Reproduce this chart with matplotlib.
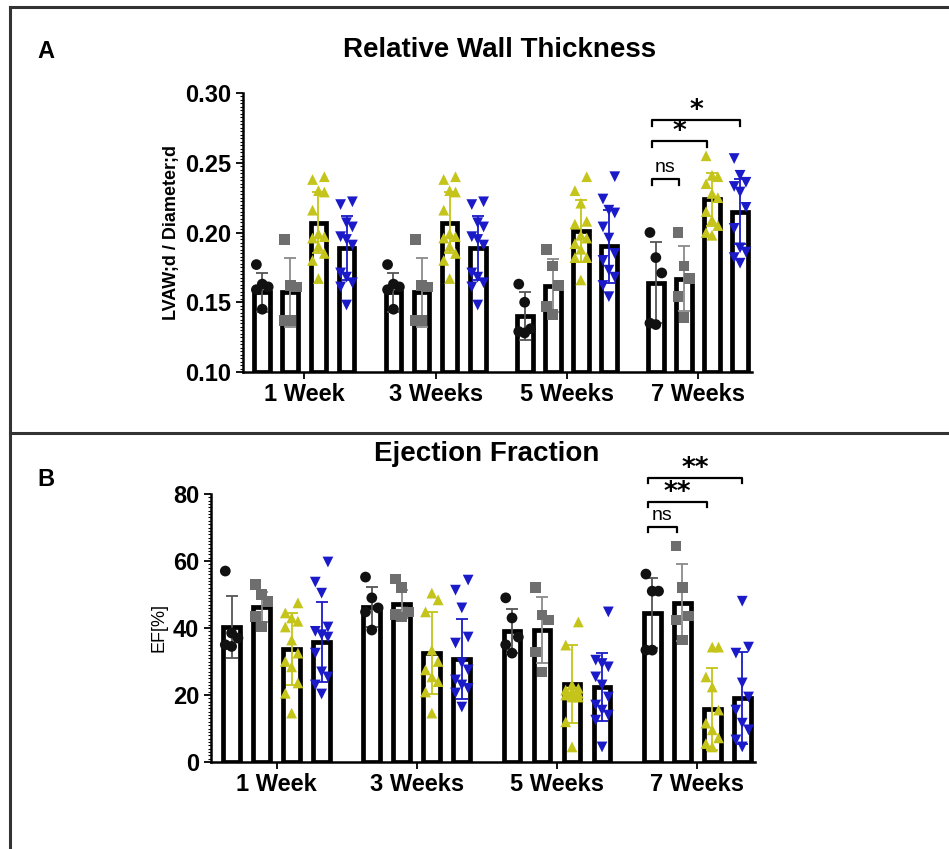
import matplotlib
matplotlib.use("Agg")
import matplotlib.pyplot as plt
import numpy as np
from matplotlib.lines import Line2D
from matplotlib.ticker import MultipleLocator, FormatStrFormatter

plt.rcParams['font.family'] = ['Liberation Sans', 'DejaVu Sans']

weeks = ["1 Week", "3 Weeks", "5 Weeks", "7 Weeks"]
groups = ["black", "gray", "yellow", "blue"]

# Panel A: Relative wall thickness (bar = mean, error = SD)
rwt_mean = [[0.157, 0.157, 0.207, 0.189],
            [0.157, 0.157, 0.207, 0.189],
            [0.140, 0.162, 0.201, 0.190],
            [0.164, 0.167, 0.224, 0.215]]
rwt_sd = [[0.014, 0.025, 0.022, 0.023],
          [0.014, 0.025, 0.022, 0.023],
          [0.017, 0.019, 0.022, 0.026],
          [0.029, 0.023, 0.019, 0.023]]
rwt_points = [
    [[0.177, 0.163, 0.161, 0.159, 0.145],
     [0.195, 0.162, 0.161, 0.137, 0.137],
     [0.240, 0.238, 0.230, 0.229, 0.216, 0.199, 0.197, 0.196, 0.190, 0.185, 0.180, 0.167],
     [0.222, 0.220, 0.207, 0.204, 0.197, 0.195, 0.191, 0.171, 0.168, 0.164, 0.161, 0.148]],
    [[0.177, 0.163, 0.161, 0.159, 0.145],
     [0.195, 0.162, 0.161, 0.137, 0.137],
     [0.240, 0.238, 0.230, 0.229, 0.216, 0.199, 0.197, 0.196, 0.190, 0.185, 0.180, 0.167],
     [0.222, 0.220, 0.207, 0.204, 0.197, 0.195, 0.191, 0.171, 0.168, 0.164, 0.161, 0.148]],
    [[0.163, 0.150, 0.131, 0.129, 0.128],
     [0.188, 0.176, 0.162, 0.147, 0.141],
     [0.240, 0.230, 0.221, 0.208, 0.206, 0.198, 0.196, 0.192, 0.188, 0.182, 0.182, 0.166],
     [0.240, 0.224, 0.216, 0.214, 0.204, 0.196, 0.185, 0.180, 0.173, 0.168, 0.162, 0.154]],
    [[0.200, 0.182, 0.171, 0.135, 0.134],
     [0.200, 0.176, 0.167, 0.154, 0.139],
     [0.255, 0.241, 0.240, 0.235, 0.228, 0.225, 0.215, 0.209, 0.205, 0.200, 0.198],
     [0.253, 0.241, 0.236, 0.233, 0.229, 0.218, 0.203, 0.189, 0.186, 0.182, 0.178]],
]

# Panel B: Ejection fraction
ef_mean = [[40.3, 46.3, 33.7, 35.8],
           [46.3, 47.2, 32.5, 30.7],
           [39.1, 39.4, 23.3, 22.4],
           [44.5, 47.5, 15.8, 19.1]]
ef_sd = [[9.3, 4.4, 10.8, 12.0],
         [5.9, 4.1, 12.3, 12.0],
         [6.6, 9.9, 11.6, 10.1],
         [10.4, 11.5, 12.2, 13.7]]
ef_points = [
    [[57.0, 38.5, 37.0, 35.0, 34.5],
     [53.0, 50.0, 48.0, 43.5, 40.5],
     [47.5, 44.5, 43.0, 42.0, 40.3, 36.4, 32.5, 30.0, 28.4, 23.6, 20.5, 14.6],
     [59.7, 53.7, 50.4, 40.3, 39.0, 38.0, 37.3, 32.5, 26.9, 25.4, 23.0, 20.3]],
    [[55.2, 49.0, 46.0, 44.8, 39.4],
     [54.6, 52.0, 44.8, 44.0, 43.3],
     [50.4, 48.4, 44.8, 33.4, 30.0, 27.5, 25.4, 24.0, 20.9, 14.6],
     [54.3, 51.3, 46.0, 37.3, 35.5, 29.6, 27.5, 24.5, 23.0, 22.0, 20.6, 16.4]],
    [[49.0, 43.0, 37.3, 35.0, 32.5],
     [52.0, 43.9, 42.4, 32.8, 26.9],
     [41.8, 34.9, 23.0, 22.0, 21.5, 21.0, 20.5, 20.0, 19.4, 19.4, 12.0, 4.5],
     [44.8, 30.4, 29.4, 28.4, 25.4, 23.0, 19.4, 17.0, 15.5, 14.0, 12.5, 4.5]],
    [[56.1, 51.0, 51.0, 33.4, 33.4],
     [64.5, 52.2, 43.6, 42.4, 36.4],
     [34.3, 34.3, 25.4, 22.4, 15.5, 11.6, 9.6, 7.2, 5.5, 4.5],
     [48.0, 34.3, 32.5, 23.6, 19.4, 15.5, 11.6, 9.6, 6.6, 4.5]],
]

# significance annotations (7 Weeks): label, from-bar, to-bar, level
sig_a = [("ns", 0, 1, 0.2384), ("*", 0, 2, 0.2656), ("*", 0, 3, 0.2806)]
sig_b = [("ns", 0, 1, 70.1), ("**", 0, 2, 77.6), ("**", 0, 3, 84.8)]

colors = ["#111111", "#6e6e6e", "#c4c41a", "#1a1ac8"]
markers = ["o", "s", "^", "v"]
err_colors = ["#555555", "#8a8a8a", "#c4c41a", "#1a1ac8"]

step = 0.214
bar_w = 0.12

fig = plt.figure(figsize=(9.49, 8.49), dpi=100)

# frame lines
for (x0, y0, x1, y1) in [(10, 7, 949, 7), (10, 7, 10, 849), (10, 433, 949, 433)]:
    fig.add_artist(Line2D([x0 / 949, x1 / 949], [1 - y0 / 849, 1 - y1 / 849],
                          transform=fig.transFigure, color="#333333", lw=2.2))


def draw_panel(ax, means, sds, points, ylim, ydelta, sig, sig_tick, minor, px):
    for gi in range(4):
        for k in range(4):
            x = gi + (k - 1.5) * step
            ax.bar(x, means[gi][k] - ylim[0], bottom=ylim[0], width=bar_w,
                   facecolor="white", edgecolor="black", linewidth=3.4, zorder=2)
            ax.errorbar(x, means[gi][k], yerr=sds[gi][k], color=err_colors[k],
                        capsize=4, capthick=1.3, elinewidth=1.3, zorder=3)
            pts = np.array(points[gi][k])
            order = np.argsort(pts)
            offs = np.zeros(len(pts))
            pattern = [0.0, -1.0, 1.0]
            for r, idx in enumerate(order):
                offs[idx] = pattern[r % 3] * 0.045
            ax.scatter(x + offs, pts, marker=markers[k], s=60, color=colors[k],
                       edgecolors="none", zorder=4)
    ax.set_xlim(-0.468, 3.412)
    ax.set_ylim(*ylim)
    ax.spines["top"].set_visible(False)
    ax.spines["right"].set_visible(False)
    ax.spines["left"].set_linewidth(1.8)
    ax.spines["bottom"].set_linewidth(1.8)
    ax.set_xticks(range(4))
    ax.set_xticklabels(weeks, fontsize=17, fontweight="bold")
    ax.yaxis.set_major_locator(MultipleLocator(ydelta))
    ax.yaxis.set_minor_locator(MultipleLocator(minor))
    ax.tick_params(axis="y", which="major", length=5, width=1.3, labelsize=17)
    ax.tick_params(axis="y", which="minor", length=2.5, width=0.8)
    ax.tick_params(axis="x", which="major", length=5, width=1.3, pad=3)
    for lab, i0, i1, lev in sig:
        x0 = 3 + (i0 - 1.5) * step - 0.03
        x1 = 3 + (i1 - 1.5) * step + (0.0 if i1 == 3 else -0.04)
        ax.plot([x0, x0, x1, x1], [lev - sig_tick, lev, lev, lev - sig_tick],
                color="black", lw=1.6, clip_on=False, zorder=5)
        if lab == "ns":
            ax.text((x0 + x1) / 2, lev + 11.5 * px, lab, ha="center", va="center",
                    fontsize=14)
        else:
            ax.text((x0 + x1) / 2, lev + 9 * px, lab, ha="center", va="center",
                    fontsize=19, fontweight="bold", family=["DejaVu Sans"])


axA = fig.add_axes([243 / 949, 1 - 372 / 849, 509 / 949, 279 / 849])
draw_panel(axA, rwt_mean, rwt_sd, rwt_points, (0.10, 0.30), 0.05, sig_a, 0.004, 0.0025,
           0.2 / 279)
axA.yaxis.set_major_formatter(FormatStrFormatter("%.2f"))
axA.set_ylabel("LVAW;d / Diameter;d", fontsize=13, fontweight="bold", labelpad=4)

axB = fig.add_axes([211 / 949, 1 - 762 / 849, 544 / 949, 268 / 849])
draw_panel(axB, ef_mean, ef_sd, ef_points, (0, 80), 20, sig_b, 1.4, 1, 80 / 268)
axB.set_ylabel("EF[%]", fontsize=13, labelpad=4)

for ax in (axA, axB):
    for lab in ax.get_yticklabels() + ax.get_xticklabels():
        lab.set_fontweight("bold")

fig.text(500 / 949, 1 - 50 / 849, "Relative Wall Thickness", ha="center", va="center",
         fontsize=20, fontweight="bold")
fig.text(46 / 949, 1 - 52 / 849, "A", ha="center", va="center", fontsize=17, fontweight="bold")
fig.text(487 / 949, 1 - 454 / 849, "Ejection Fraction", ha="center", va="center",
         fontsize=20, fontweight="bold")
fig.text(46 / 949, 1 - 480 / 849, "B", ha="center", va="center", fontsize=17, fontweight="bold")

fig.savefig("out.png", dpi=100, facecolor="white")
